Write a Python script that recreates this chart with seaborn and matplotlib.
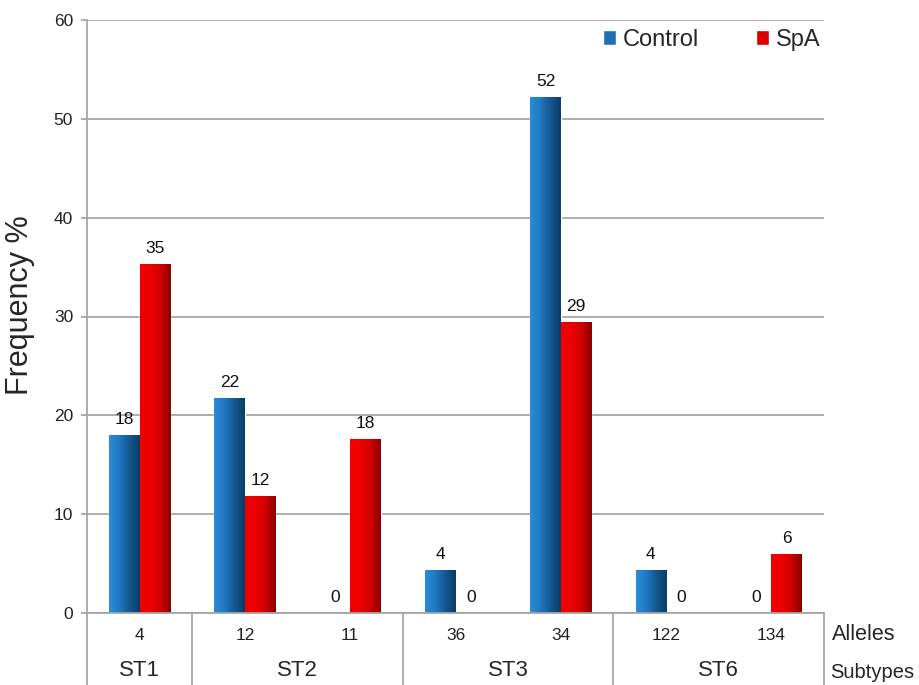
import numpy as np
import pandas as pd
import seaborn as sns
import matplotlib.pyplot as plt
from matplotlib.colors import LinearSegmentedColormap
from matplotlib.patches import Patch
from matplotlib.transforms import blended_transform_factory

alelos = ['4', '12', '11', '36', '34', '122', '134']
subtipos = ['ST1', 'ST2', 'ST3', 'ST6']
subtipo_centro = [0, 1.5, 3.5, 5.5]
separadores = [-0.5, 0.5, 2.5, 4.5, 6.5]
grupos = ['Control', 'SpA']
controle = [18.0, 21.7, 0, 4.3, 52.2, 4.3, 0]
spa = [35.3, 11.8, 17.6, 0, 29.4, 0, 5.9]

df = pd.DataFrame({
    'Alelo': alelos * 2,
    'Grupo': [grupos[0]] * len(alelos) + [grupos[1]] * len(alelos),
    'Freq': controle + spa,
})

sns.set_style('white')
plt.rcParams['font.family'] = ['Liberation Sans', 'DejaVu Sans']

cinza = '#a6a6a6'
cores = ['#1f6fb5', '#dd0000']
gradientes = [
    LinearSegmentedColormap.from_list('azul', ['#2a8cd8', '#1f78c2', '#14578f', '#0c3d68']),
    LinearSegmentedColormap.from_list('verm', ['#f00000', '#ec0000', '#d00000', '#8a0000']),
]

fig = plt.figure(figsize=(9.19, 6.85), dpi=100)
ax = fig.add_axes([87 / 919, 72 / 685, 737 / 919, 593 / 685])

sns.barplot(
    data=df, x='Alelo', y='Freq', hue='Grupo',
    order=alelos, hue_order=grupos,
    palette=cores, width=0.58, saturation=1,
    errorbar=None, legend=False, ax=ax,
)

# gradiente horizontal nas barras
faixa = np.linspace(0, 1, 64).reshape(1, -1)
for cont, cmap in zip(ax.containers, gradientes):
    for barra in cont:
        h = barra.get_height()
        if h <= 0:
            continue
        x, w = barra.get_x(), barra.get_width()
        ax.imshow(faixa, extent=[x, x + w, 0, h], cmap=cmap, aspect='auto',
                  interpolation='bilinear', zorder=barra.get_zorder() + 0.1)
    ax.bar_label(cont, fmt='%.0f', fontsize=12.5, color='#111111', padding=6)

ax.set_xlim(-0.5, 6.5)
ax.set_ylim(0, 60)
ax.set_yticks(range(0, 61, 10))
ax.yaxis.grid(True, color=cinza, lw=1.3)
ax.set_axisbelow(True)
for lado in ['top', 'right']:
    ax.spines[lado].set_visible(False)
for lado in ['left', 'bottom']:
    ax.spines[lado].set_color(cinza)
    ax.spines[lado].set_linewidth(1.3)
ax.tick_params(axis='y', length=4, width=1.3, color=cinza, pad=6, labelsize=12.5, labelcolor='#222222', left=True)
ax.tick_params(axis='x', length=0, pad=11, labelsize=12.5, labelcolor='#222222')
ax.set_xlabel('')
ax.set_ylabel('Frequency %', fontsize=22)
ax.yaxis.set_label_coords(-0.07, 0.52)

# tabela de categorias abaixo do eixo
trans = blended_transform_factory(ax.transData, ax.transAxes)
for xb in separadores:
    ax.plot([xb, xb], [0, -0.125], transform=trans, color=cinza, lw=1.3, clip_on=False)
for nome, xc in zip(subtipos, subtipo_centro):
    ax.text(xc, -0.097, nome, transform=trans, ha='center', va='center', fontsize=16)
ax.text(1.011, -0.036, 'Alleles', transform=ax.transAxes, ha='left', va='center', fontsize=15.5)
ax.text(1.008, -0.100, 'Subtypes', transform=ax.transAxes, ha='left', va='center', fontsize=14.5)

alcas = [Patch(facecolor=c) for c in cores]
ax.legend(alcas, grupos, loc='upper left', bbox_to_anchor=(0.70, 0.985), frameon=False,
          ncol=2, fontsize=17, handlelength=0.55, handleheight=0.6, handletextpad=0.3,
          columnspacing=2.4, borderpad=0, borderaxespad=0)

plt.savefig('out.png', dpi=100)
